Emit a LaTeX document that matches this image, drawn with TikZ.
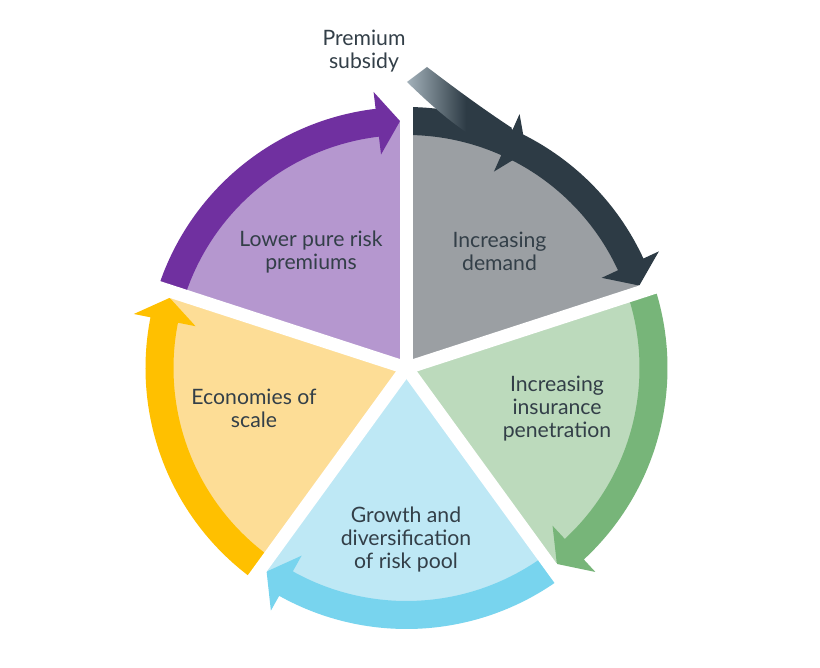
\documentclass[tikz,border=0pt]{standalone}
\usepackage{fontspec}
\setmainfont{Lato}
\definecolor{grayF}{HTML}{9B9FA3}
\definecolor{grayB}{HTML}{2D3B45}
\definecolor{greenF}{HTML}{BCDABC}
\definecolor{greenB}{HTML}{77B579}
\definecolor{blueF}{HTML}{BEE8F5}
\definecolor{blueB}{HTML}{78D4EE}
\definecolor{yelF}{HTML}{FDDD96}
\definecolor{yelB}{HTML}{FFC000}
\definecolor{purF}{HTML}{B597CF}
\definecolor{purB}{HTML}{7030A0}
\definecolor{subL}{HTML}{A3B1BA}
\definecolor{subD}{HTML}{2D3B45}
\definecolor{textC}{HTML}{333F48}
\pgfdeclarehorizontalshading{subsh}{100bp}{color(0bp)=(subL); color(25bp)=(subL); color(53bp)=(subD); color(100bp)=(subD)}
\newcommand\sectorfill[3]{%
  \fill[#1] (0,0) -- (#2:246) arc[start angle=#2, end angle=#3, radius=246] -- cycle;}
\newcommand\cycarrow[3]{%
  \pgfmathsetmacro\tipA{#3+1.5}\pgfmathsetmacro\baseA{#3+6.8}%
  \fill[#1] (#2:261) arc[start angle=#2, end angle=\baseA, radius=261]
    -- (\baseA:278) -- (\tipA:247) -- (\baseA:215) -- (\baseA:233)
    arc[start angle=\baseA, end angle=#2, radius=233] -- cycle;}
\tikzset{
  lbl/.style={font=\fontsize{21.2}{23}\selectfont, text=textC, align=center, inner sep=0pt},
  gapline/.style={white, line width=13, line cap=round}
}
\begin{document}
\begin{tikzpicture}[x=1pt, y=1pt]
\useasboundingbox[fill=white] (-406.5,-300) rectangle (413.5,368);
% sector fills
\sectorfill{grayF}{90}{18}
\sectorfill{greenF}{18}{-54}
\sectorfill{blueF}{-54}{-126}
\sectorfill{yelF}{-126}{-198}
\sectorfill{purF}{162}{90}
% cycle arrows
\cycarrow{grayB}{90}{18}
\cycarrow{greenB}{18}{-54}
\cycarrow{blueB}{-54}{-126}
\cycarrow{yelB}{-126}{-198}
\cycarrow{purB}{162}{90}
% gaps
\coordinate (c) at (0,0);
\foreach \a in {90,18,-54,-126,162} {
  \coordinate (g\a) at (\a:285);
  \draw[gapline] (c) -- (g\a);
}
% premium subsidy arrow
\begin{scope}[shift={(-406.5,368)}, yscale=-1]
  \shade[shading=subsh] (427,67) .. controls (452,86) and (480,107) .. (512,128)
    -- (495,150) .. controls (455,128) and (430,104) .. (407,82) -- cycle;
\end{scope}
\fill[grayB] (66:278) -- (61:247) -- (66:215) -- cycle;
% labels
\node[lbl] (sub) at (-42.5,317) {Premium\\subsidy};
\node[lbl] (lpr) at (-95.5,116) {Lower pure risk\\premiums};
\node[lbl] (dem) at (93,116.5) {Increasing\\demand};
\node[lbl] (pen) at (150.5,-40.5) {Increasing\\insurance\\penetration};
\node[lbl] (pool) at (-0.5,-172) {Growth and\\diversification\\of risk pool};
\node[lbl] (eco) at (-152.5,-40) {Economies of\\scale};
\end{tikzpicture}
\end{document}
